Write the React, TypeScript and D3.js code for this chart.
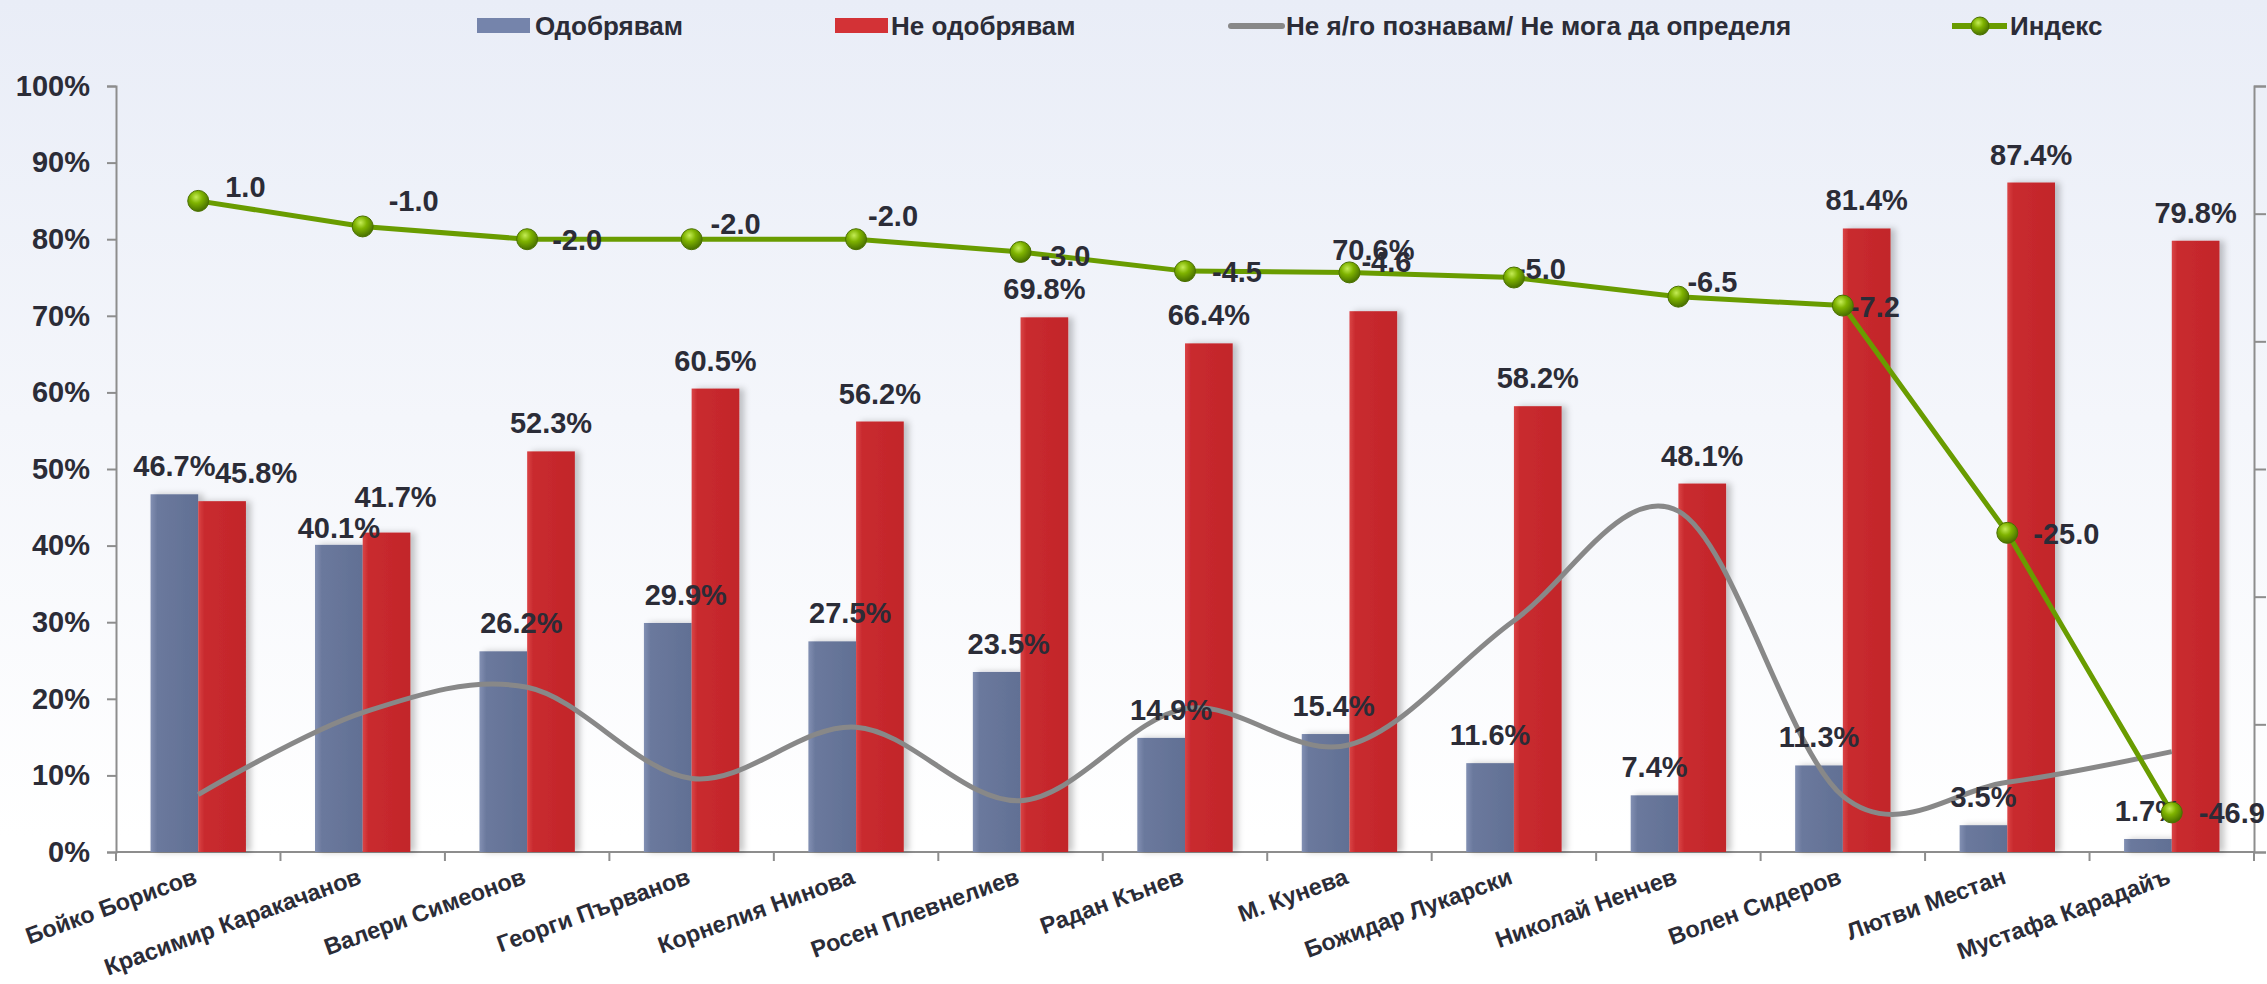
import * as d3 from "d3";
import { useEffect, useRef } from "react";

const categories = [
  "Бойко Борисов",
  "Красимир Каракачанов",
  "Валери Симеонов",
  "Георги Първанов",
  "Корнелия Нинова",
  "Росен Плевнелиев",
  "Радан Кънев",
  "М. Кунева",
  "Божидар Лукарски",
  "Николай Ненчев",
  "Волен Сидеров",
  "Лютви Местан",
  "Мустафа Карадайъ",
];

const approve = [46.7, 40.1, 26.2, 29.9, 27.5, 23.5, 14.9, 15.4, 11.6, 7.4, 11.3, 3.5, 1.7];
const disapprove = [45.8, 41.7, 52.3, 60.5, 56.2, 69.8, 66.4, 70.6, 58.2, 48.1, 81.4, 87.4, 79.8];
const unknown = [7.5, 18.2, 21.5, 9.6, 16.3, 6.7, 18.7, 14.0, 30.2, 44.5, 7.3, 9.1, 13.1];
const indexValues = [1.0, -1.0, -2.0, -2.0, -2.0, -3.0, -4.5, -4.6, -5.0, -6.5, -7.2, -25.0, -46.9];

const percentTicks = [0, 10, 20, 30, 40, 50, 60, 70, 80, 90, 100];
const indexTicks = [-50, -40, -30, -20, -10, 0, 10];

const legendLabels = ["Одобрявам", "Не одобрявам", "Не я/го познавам/ Не мога да определя", "Индекс"];

// hand-moved data labels in the original, [dx, dy] from the default spot
const approveNudge = [[0, 0], [0, 11], [18, 0], [18, 0], [18, 0], [12, 0], [10, 0], [8, 0], [0, 0], [0, 0], [0, 0], [0, 0], [0, 0]];
const disapproveNudge = [[34, 0], [9, -8], [0, 0], [0, 0], [0, 0], [0, 0], [0, 0], [0, -33], [0, 0], [0, 0], [0, 0], [0, 0], [0, 0]];
const indexNudge = [[27, -14], [26, -26], [25, 0], [19, -16], [12, -24], [20, 4], [27, 0], [12, -11], [2, -9], [9, -15], [7, 1], [26, 1], [27, 0]];

const W = 2267;
const H = 984;
const FONT = "'Liberation Sans', Arial, sans-serif";
const TEXT = "#2b2c37";
const AXIS = "#8d8d8d";

export default function App() {
  const ref = useRef<SVGSVGElement | null>(null);

  useEffect(() => {
    const el = ref.current;
    if (!el) return;
    const svg = d3.select(el);
    svg.selectAll("*").remove();

    const margin = { top: 86, right: 13, bottom: 132, left: 116 };
    const x0 = margin.left;
    const x1 = W - margin.right;
    const yTop = margin.top;
    const yBot = H - margin.bottom;

    const x = d3.scaleBand<string>().domain(categories).range([x0, x1]).padding(0);
    const yPct = d3.scaleLinear().domain([0, 100]).range([yBot, yTop]);
    const yIdx = d3.scaleLinear().domain([-50, 10]).range([yBot, yTop]);
    const barW = x.bandwidth() * 0.29;
    const cx = (i: number) => (x(categories[i]) ?? 0) + x.bandwidth() / 2;

    const defs = svg.append("defs");

    const bg = defs.append("linearGradient").attr("id", "bg").attr("x1", 0).attr("y1", 0).attr("x2", 0).attr("y2", 1);
    bg.append("stop").attr("offset", "0%").attr("stop-color", "#e9edf7");
    bg.append("stop").attr("offset", "85%").attr("stop-color", "#ffffff");
    bg.append("stop").attr("offset", "100%").attr("stop-color", "#ffffff");

    const gBlue = defs.append("linearGradient").attr("id", "gBlue").attr("x1", 0).attr("x2", 1).attr("y1", 0).attr("y2", 0);
    gBlue.append("stop").attr("offset", "0%").attr("stop-color", "#8290b3");
    gBlue.append("stop").attr("offset", "14%").attr("stop-color", "#6b799d");
    gBlue.append("stop").attr("offset", "100%").attr("stop-color", "#617094");

    const gRed = defs.append("linearGradient").attr("id", "gRed").attr("x1", 0).attr("x2", 1).attr("y1", 0).attr("y2", 0);
    gRed.append("stop").attr("offset", "0%").attr("stop-color", "#da4446");
    gRed.append("stop").attr("offset", "12%").attr("stop-color", "#c92b2f");
    gRed.append("stop").attr("offset", "100%").attr("stop-color", "#c2252a");

    const ball = defs.append("radialGradient").attr("id", "ball").attr("cx", "40%").attr("cy", "32%").attr("r", "65%");
    ball.append("stop").attr("offset", "0%").attr("stop-color", "#c4ec55");
    ball.append("stop").attr("offset", "45%").attr("stop-color", "#7fb300");
    ball.append("stop").attr("offset", "100%").attr("stop-color", "#4c7500");

    const shadow = defs.append("filter").attr("id", "shadow").attr("x", "-20%").attr("y", "-5%").attr("width", "160%").attr("height", "110%");
    shadow
      .append("feDropShadow")
      .attr("dx", 5)
      .attr("dy", 0)
      .attr("stdDeviation", 3)
      .attr("flood-color", "#000")
      .attr("flood-opacity", 0.22);

    svg.append("rect").attr("width", W).attr("height", H).attr("fill", "url(#bg)");

    // left axis
    svg
      .append("g")
      .attr("transform", `translate(${x0},0)`)
      .call(d3.axisLeft(yPct).tickValues(percentTicks).tickSize(9).tickSizeOuter(9).tickPadding(17).tickFormat((d) => `${d}%`))
      .call((g) => g.selectAll("path,line").attr("stroke", AXIS).attr("stroke-width", 2))
      .call((g) =>
        g.selectAll("text").attr("fill", TEXT).attr("font-size", 29).attr("font-weight", 700).attr("font-family", FONT)
      );

    // right axis, its labels fall outside the picture
    svg
      .append("g")
      .attr("transform", `translate(${x1},0)`)
      .call(d3.axisRight(yIdx).tickValues(indexTicks).tickSize(12).tickSizeOuter(12).tickFormat(() => ""))
      .call((g) => g.selectAll("path,line").attr("stroke", AXIS).attr("stroke-width", 2));

    // bottom axis with ticks between categories
    const bottom = svg.append("g");
    bottom.append("line").attr("x1", x0).attr("x2", x1).attr("y1", yBot).attr("y2", yBot).attr("stroke", AXIS).attr("stroke-width", 2);
    const edges = categories.map((c) => x(c) ?? 0).concat([x1]);
    bottom
      .selectAll("line.tick")
      .data(edges)
      .enter()
      .append("line")
      .attr("class", "tick")
      .attr("x1", (d) => d)
      .attr("x2", (d) => d)
      .attr("y1", yBot)
      .attr("y2", yBot + 9)
      .attr("stroke", AXIS)
      .attr("stroke-width", 2);

    bottom
      .selectAll("text")
      .data(categories)
      .enter()
      .append("text")
      .attr("transform", (_, i) => `translate(${cx(i)},${yBot + 31}) rotate(-20)`)
      .attr("text-anchor", "end")
      .attr("fill", TEXT)
      .attr("font-size", 23.5)
      .attr("font-weight", 700)
      .attr("font-family", FONT)
      .text((d) => d);

    // bars
    const bars = svg.append("g").attr("filter", "url(#shadow)");
    bars
      .selectAll("rect.approve")
      .data(approve)
      .enter()
      .append("rect")
      .attr("class", "approve")
      .attr("x", (_, i) => cx(i) - barW)
      .attr("y", (d) => yPct(d))
      .attr("width", barW)
      .attr("height", (d) => yBot - yPct(d))
      .attr("fill", "url(#gBlue)");
    bars
      .selectAll("rect.disapprove")
      .data(disapprove)
      .enter()
      .append("rect")
      .attr("class", "disapprove")
      .attr("x", (_, i) => cx(i))
      .attr("y", (d) => yPct(d))
      .attr("width", barW)
      .attr("height", (d) => yBot - yPct(d))
      .attr("fill", "url(#gRed)");

    // unknown line, excel style smoothing
    const smooth = d3
      .line<number>()
      .x((_, i) => cx(i))
      .y((d) => yPct(d))
      .curve(d3.curveCardinal.tension(0));
    svg
      .append("path")
      .datum(unknown)
      .attr("d", smooth)
      .attr("fill", "none")
      .attr("stroke", "#888888")
      .attr("stroke-width", 5)
      .attr("stroke-linejoin", "round");

    // index line
    const straight = d3
      .line<number>()
      .x((_, i) => cx(i))
      .y((d) => yIdx(d));
    svg
      .append("path")
      .datum(indexValues)
      .attr("d", straight)
      .attr("fill", "none")
      .attr("stroke", "#699c00")
      .attr("stroke-width", 5)
      .attr("stroke-linejoin", "round");

    // bar labels
    const labelStyle = (s: d3.Selection<SVGTextElement, number, SVGGElement, unknown>) =>
      s.attr("fill", TEXT).attr("font-size", 29).attr("font-weight", 700).attr("font-family", FONT).attr("text-anchor", "middle");

    const labels = svg.append("g");
    labels
      .selectAll("text.a")
      .data(approve)
      .enter()
      .append("text")
      .attr("class", "a")
      .attr("x", (_, i) => cx(i) - barW / 2 + approveNudge[i][0])
      .attr("y", (d, i) => yPct(d) - 18 + approveNudge[i][1])
      .call(labelStyle)
      .text((d) => `${d.toFixed(1)}%`);
    labels
      .selectAll("text.d")
      .data(disapprove)
      .enter()
      .append("text")
      .attr("class", "d")
      .attr("x", (_, i) => cx(i) + barW / 2 + disapproveNudge[i][0])
      .attr("y", (d, i) => yPct(d) - 18 + disapproveNudge[i][1])
      .call(labelStyle)
      .text((d) => `${d.toFixed(1)}%`);

    // markers
    svg
      .append("g")
      .selectAll("circle")
      .data(indexValues)
      .enter()
      .append("circle")
      .attr("cx", (_, i) => cx(i))
      .attr("cy", (d) => yIdx(d))
      .attr("r", 10.5)
      .attr("fill", "url(#ball)")
      .attr("stroke", "#4a7000")
      .attr("stroke-width", 1);

    labels
      .selectAll("text.idx")
      .data(indexValues)
      .enter()
      .append("text")
      .attr("class", "idx")
      .attr("x", (_, i) => cx(i) + indexNudge[i][0])
      .attr("y", (d, i) => yIdx(d) + indexNudge[i][1])
      .attr("dy", "0.36em")
      .attr("fill", TEXT)
      .attr("font-size", 29)
      .attr("font-weight", 700)
      .attr("font-family", FONT)
      .text((d) => d.toFixed(1));

    // legend
    const legend = svg.append("g").attr("font-family", FONT).attr("font-size", 26).attr("font-weight", 700).attr("fill", TEXT);
    const ly = 26;
    legend.append("rect").attr("x", 477).attr("y", ly - 8).attr("width", 53).attr("height", 15).attr("fill", "#7584ab");
    legend.append("text").attr("x", 535).attr("y", ly).attr("dy", "0.36em").text(legendLabels[0]);
    legend.append("rect").attr("x", 835).attr("y", ly - 8).attr("width", 53).attr("height", 15).attr("fill", "#d33236");
    legend.append("text").attr("x", 891).attr("y", ly).attr("dy", "0.36em").text(legendLabels[1]);
    legend
      .append("line")
      .attr("x1", 1231)
      .attr("x2", 1282)
      .attr("y1", ly)
      .attr("y2", ly)
      .attr("stroke", "#888888")
      .attr("stroke-width", 6)
      .attr("stroke-linecap", "round");
    legend.append("text").attr("x", 1286).attr("y", ly).attr("dy", "0.36em").text(legendLabels[2]);
    legend
      .append("line")
      .attr("x1", 1952)
      .attr("x2", 2007)
      .attr("y1", ly)
      .attr("y2", ly)
      .attr("stroke", "#699c00")
      .attr("stroke-width", 6);
    legend
      .append("circle")
      .attr("cx", 1980)
      .attr("cy", ly)
      .attr("r", 9)
      .attr("fill", "url(#ball)")
      .attr("stroke", "#4a7000")
      .attr("stroke-width", 1);
    legend.append("text").attr("x", 2010).attr("y", ly).attr("dy", "0.36em").text(legendLabels[3]);
  }, []);

  return (
    <svg
      ref={ref}
      width={W}
      height={H}
      style={{ position: "absolute", left: 0, top: 0, display: "block" }}
    />
  );
}
